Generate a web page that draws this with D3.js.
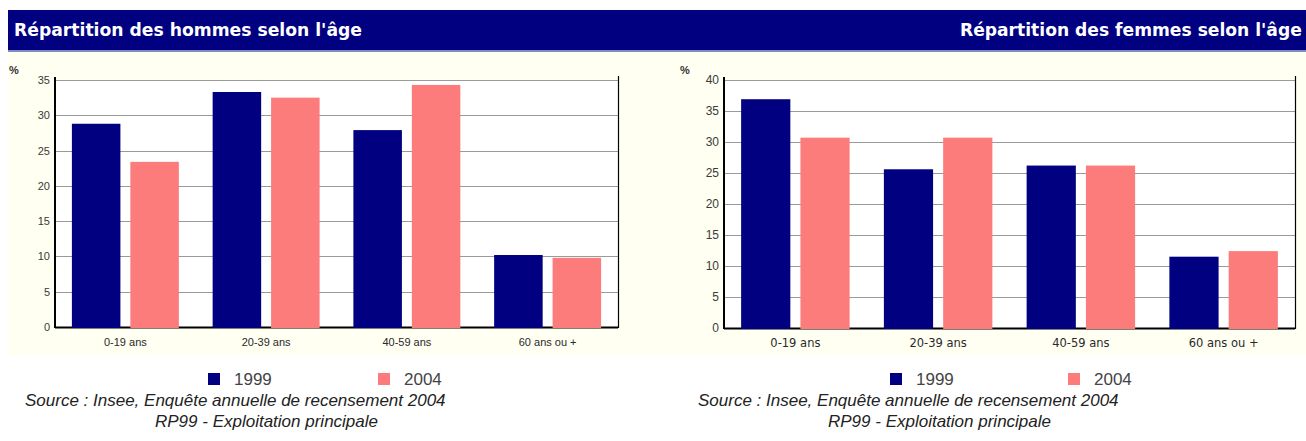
<!DOCTYPE html>
<html>
<head>
<meta charset="utf-8">
<script src="https://cdn.jsdelivr.net/npm/d3@7"></script>
<style>
  html, body { margin: 0; padding: 0; background: #ffffff; }
  svg { display: block; }
</style>
</head>
<body>
<svg id="chart" width="1306" height="441"></svg>
<script>
// ---------- DATA ----------
const categories = ["0-19 ans", "20-39 ans", "40-59 ans", "60 ans ou +"];
const seriesNames = ["1999", "2004"];
const hommes1999 = [28.8, 33.3, 27.9, 10.2];
const hommes2004 = [23.4, 32.5, 34.3, 9.8];
const femmes1999 = [36.9, 25.6, 26.2, 11.5];
const femmes2004 = [30.7, 30.7, 26.2, 12.4];
const hommesTicks = [0, 5, 10, 15, 20, 25, 30, 35];
const femmesTicks = [0, 5, 10, 15, 20, 25, 30, 35, 40];
const titleHommes = "Répartition des hommes selon l'âge";
const titleFemmes = "Répartition des femmes selon l'âge";
const sourceLine1 = "Source : Insee, Enquête annuelle de recensement 2004";
const sourceLine2 = "RP99 - Exploitation principale";
const unitLabel = "%";

const colors = ["#000080", "#fc7c7c"];

const svg = d3.select("#chart");

// header band
svg.append("rect").attr("x", 8).attr("y", 10).attr("width", 1298).attr("height", 40).attr("fill", "#000080");
svg.append("rect").attr("x", 8).attr("y", 50).attr("width", 1298).attr("height", 2).attr("fill", "#7d8cc0");
// cream background
svg.append("rect").attr("x", 8).attr("y", 52).attr("width", 1298).attr("height", 303).attr("fill", "#fffff2");

function drawChart(cfg) {
  const g = svg.append("g");
  const y = d3.scaleLinear().domain([0, d3.max(cfg.ticks)]).range([cfg.bottom, cfg.top]);
  const x = d3.scaleBand().domain(categories).range([cfg.left, cfg.right]).paddingInner(0.24).paddingOuter(0.12);
  const xs = d3.scaleBand().domain(seriesNames).range([0, x.bandwidth()]).paddingInner(0.17);

  // plot background
  g.append("rect").attr("x", cfg.left).attr("y", cfg.top).attr("width", cfg.right - cfg.left)
    .attr("height", cfg.bottom - cfg.top).attr("fill", "#ffffff");

  // gridlines
  g.append("g").selectAll("line").data(cfg.ticks.filter(t => t > 0)).join("line")
    .attr("x1", cfg.left).attr("x2", cfg.right)
    .attr("y1", d => Math.round(y(d)) + 0.5).attr("y2", d => Math.round(y(d)) + 0.5)
    .attr("stroke", "#9a9a9a").attr("stroke-width", 1);

  // y axis via d3
  const yAxis = d3.axisLeft(y).tickValues(cfg.ticks).tickSize(0).tickPadding(5);
  const ya = g.append("g").attr("transform", `translate(${cfg.left},0)`).call(yAxis);
  ya.select(".domain").remove();
  ya.selectAll("text").attr("font-family", cfg.tickFont).attr("font-size", cfg.tickSize).attr("fill", "#3a3a3a");

  // axis lines
  g.append("line").attr("x1", cfg.left).attr("x2", cfg.left).attr("y1", cfg.top - 3).attr("y2", cfg.bottom + 1)
    .attr("stroke", "#000").attr("stroke-width", 2);
  g.append("line").attr("x1", cfg.right + 0.5).attr("x2", cfg.right + 0.5).attr("y1", cfg.top - 4).attr("y2", cfg.bottom + 1)
    .attr("stroke", "#000").attr("stroke-width", 1.2);
  g.append("line").attr("x1", cfg.left).attr("x2", cfg.right).attr("y1", cfg.bottom + 0.5).attr("y2", cfg.bottom + 0.5)
    .attr("stroke", "#000").attr("stroke-width", 2);

  // bars
  const groups = g.append("g").selectAll("g").data(categories).join("g")
    .attr("transform", d => `translate(${x(d)},0)`);
  groups.selectAll("rect").data((d, i) => seriesNames.map((s, j) => ({ s, v: cfg.values[j][i] }))).join("rect")
    .attr("x", d => xs(d.s)).attr("width", xs.bandwidth())
    .attr("y", d => y(d.v)).attr("height", d => y(0) - y(d.v) + 1)
    .attr("fill", (d, j) => colors[j]);

  // x axis labels via d3
  const xAxis = d3.axisBottom(x).tickSize(0).tickPadding(cfg.xPad);
  const xa = g.append("g").attr("transform", `translate(0,${cfg.bottom})`).call(xAxis);
  xa.select(".domain").remove();
  xa.selectAll("text").attr("font-family", cfg.xFont).attr("font-size", cfg.xSize).attr("fill", "#2a2a2a");

  // unit
  g.append("text").attr("x", cfg.unitX).attr("y", cfg.top - 6).text(unitLabel)
    .attr("font-family", "Liberation Sans").attr("font-size", 11).attr("font-weight", "bold").attr("fill", "#333");

  // title (sized to match the reference text width)
  const t = g.append("text").attr("x", cfg.titleX).attr("y", 36).text(cfg.title)
    .attr("font-family", "DejaVu Sans").attr("font-weight", "bold").attr("font-size", 16).attr("fill", "#ffffff");
  const w = t.node().getComputedTextLength();
  t.attr("font-size", 16 * cfg.titleWidth / w);

  // legend
  seriesNames.forEach((s, j) => {
    g.append("rect").attr("x", cfg.legendX[j]).attr("y", 373).attr("width", 12).attr("height", 12).attr("fill", colors[j]);
    g.append("text").attr("x", cfg.legendX[j] + 26).attr("y", 385).text(s)
      .attr("font-family", "Liberation Sans").attr("font-size", 17).attr("fill", "#444");
  });

  // source
  g.append("text").attr("x", cfg.sourceX).attr("y", 406).text(sourceLine1)
    .attr("font-family", "Liberation Sans").attr("font-style", "italic").attr("font-size", 17).attr("fill", "#222");
  g.append("text").attr("x", cfg.sourceX + 130).attr("y", 427).text(sourceLine2)
    .attr("font-family", "Liberation Sans").attr("font-style", "italic").attr("font-size", 17).attr("fill", "#222");
}

drawChart({
  left: 55, right: 618, top: 80, bottom: 327,
  ticks: hommesTicks, values: [hommes1999, hommes2004],
  tickFont: "Liberation Sans", tickSize: 11, xFont: "Liberation Sans", xSize: 11, xPad: 11,
  unitX: 9, titleX: 14, titleWidth: 348, title: titleHommes,
  legendX: [208, 378], sourceX: 25
});
drawChart({
  left: 724, right: 1295, top: 80, bottom: 328,
  ticks: femmesTicks, values: [femmes1999, femmes2004],
  tickFont: "Liberation Sans", tickSize: 12, xFont: "DejaVu Sans", xSize: 11.5, xPad: 11,
  unitX: 680, titleX: 960, titleWidth: 342, title: titleFemmes,
  legendX: [890, 1068], sourceX: 698
});
</script>
</body>
</html>
